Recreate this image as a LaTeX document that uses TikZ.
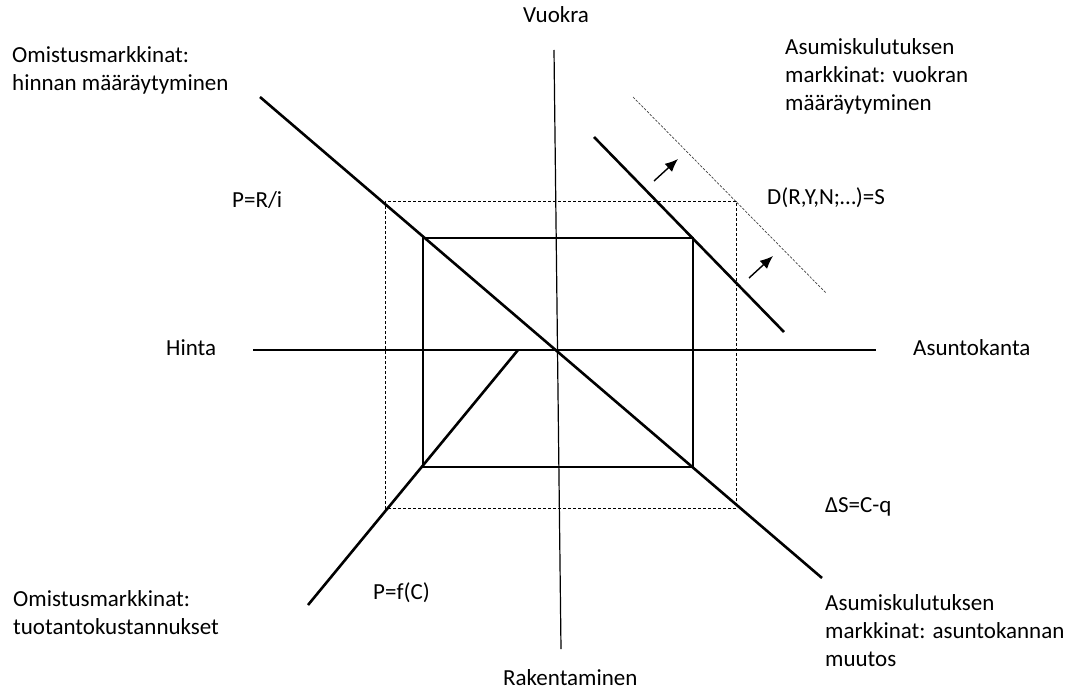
\documentclass[tikz,border=0pt]{standalone}
\usepackage{fontspec}
\setmainfont{Carlito}
\usetikzlibrary{arrows.meta,positioning,calc}

\begin{document}
\begin{tikzpicture}[
        x=1pt, y=-1pt,
        >={Latex[length=13pt,width=11pt]},
        every node/.style={inner sep=0pt, font=\fontsize{23}{28}\selectfont}
    ]

    \tikzstyle{axisline} = [line width=1.2pt]
    \tikzstyle{schedule} = [line width=2.6pt]
    \tikzstyle{guide} = [line width=0.9pt, dash pattern=on 3pt off 2pt]
    \tikzstyle{shifted} = [line width=0.7pt, dash pattern=on 2.5pt off 1.5pt, black!75]
    \tikzstyle{txt} = [anchor=north west, align=left]

    \path[use as bounding box] (0,0) rectangle (1065,695);

    % axes
    \coordinate (vtop) at (554,50);
    \coordinate (vbot) at (561,649);
    \coordinate (hleft) at (253,350);
    \coordinate (hright) at (876,350);
    \draw[axisline] (vtop) -- (vbot);
    \draw[axisline] (hleft) -- (hright);

    % schedules
    \coordinate (pr1) at (260,97);
    \coordinate (pr2) at (822,578);
    \coordinate (pf1) at (308,605);
    \coordinate (pf2) at (518,350);
    \coordinate (dd1) at (594,137);
    \coordinate (dd2) at (784,332);
    \coordinate (dn1) at (633,97);
    \coordinate (dn2) at (826,293);
    \draw[schedule] (pr1) -- (pr2);
    \draw[schedule] (pf1) -- (pf2);
    \draw[schedule] (dd1) -- (dd2);
    \draw[shifted] (dn1) -- (dn2);

    % equilibrium boxes
    \coordinate (out1) at (385,201);
    \coordinate (out2) at (736,508);
    \coordinate (in1) at (423,238);
    \coordinate (in2) at (693,467);
    \draw[guide] (out1) rectangle (out2);
    \draw[axisline] (in1) rectangle (in2);

    % shift of demand
    \coordinate (sa1) at (654,181);
    \coordinate (sb1) at (678,159);
    \coordinate (sa2) at (749,278);
    \coordinate (sb2) at (773,256);
    \draw[->, line width=1.4pt] (sa1) -- (sb1);
    \draw[->, line width=1.4pt] (sa2) -- (sb2);

    % labels
    \node[txt] (vuokra) at (523,6) {Vuokra};
    \node[txt] (rakent) at (503,669) {Rakentaminen};
    \node[txt] (hinta) at (166,339) {Hinta};
    \node[txt] (kanta) at (913,339) {Asuntokanta};
    \node[txt] (omhinta) at (12,46) {Omistusmarkkinat:\\hinnan määräytyminen};
    \node[txt] (asvuokra) at (785,38) {Asumiskulutuksen\\markkinat: vuokran\\määräytyminen};
    \node[txt] (omkust) at (13,590) {Omistusmarkkinat:\\tuotantokustannukset};
    \node[txt] (askanta) at (825,594) {Asumiskulutuksen\\markkinat: asuntokannan\\muutos};
    \node[txt] (prhinta) at (232,191) {P=R/i};
    \node[txt] (kysynta) at (767,187) {D(R,Y,N;…)=S};
    \node[txt] (muutos) at (825,497) {ΔS=C-q};
    \node[txt] (kustannus) at (373,582) {P=f(C)};

\end{tikzpicture}
\end{document}
